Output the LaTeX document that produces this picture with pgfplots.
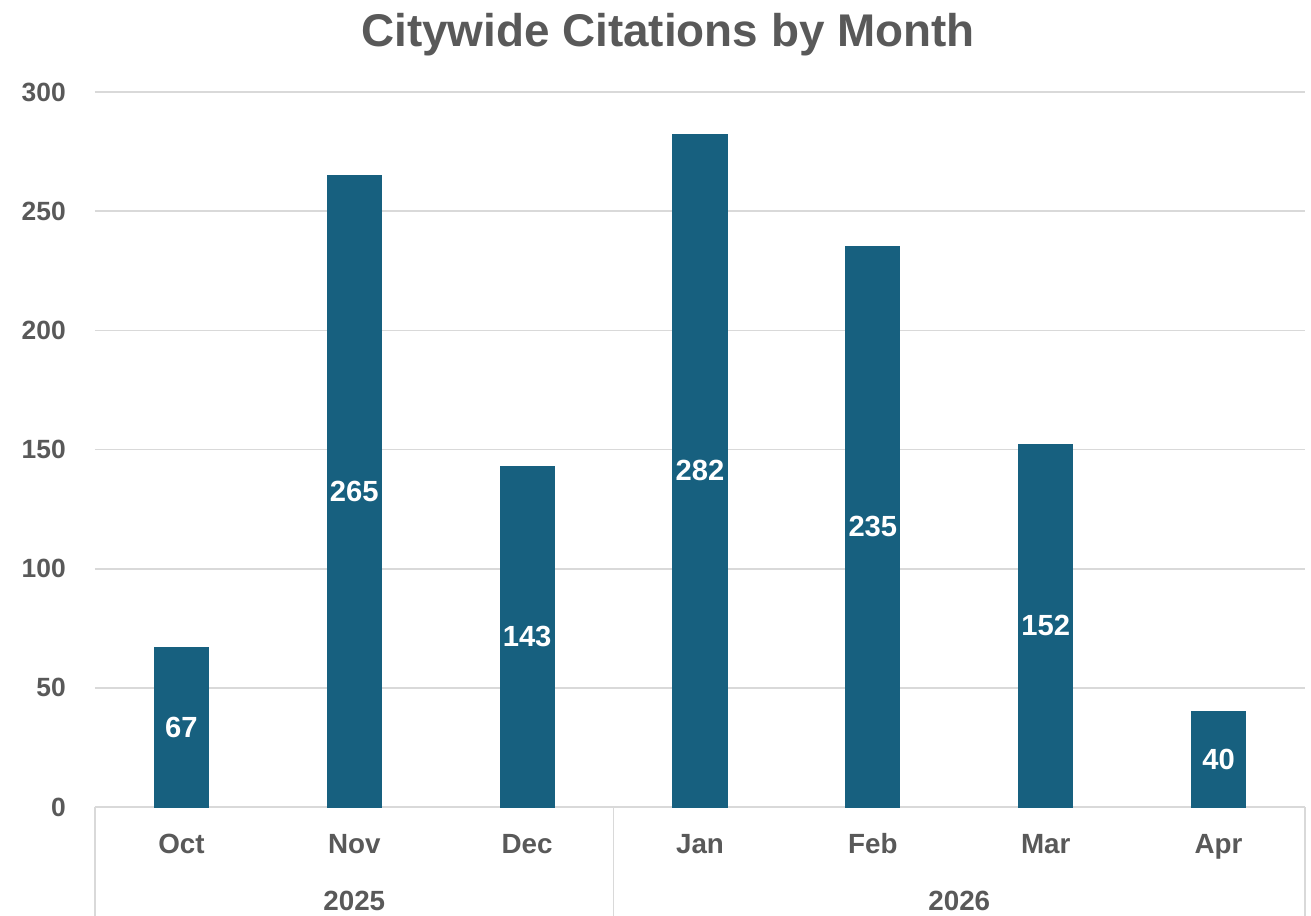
\documentclass[border=0pt]{standalone}
\usepackage{fontspec}
\setmainfont{Liberation Sans}
\usepackage{pgfplots}
\usepackage{pgfplotstable}
\pgfplotsset{compat=1.18}
\definecolor{barc}{HTML}{17607F}
\definecolor{txt}{HTML}{595959}
\definecolor{grd}{HTML}{D9D9D9}
\pgfplotstableread{
x v
0 67
1 265
2 143
3 282
4 235
5 152
6 40
}\citations
\begin{document}
\begin{tikzpicture}[x=1pt,y=1pt]
\useasboundingbox (-34.2,-39.24) rectangle (437.76,290.52);
\begin{axis}[at={(0,0)}, anchor=south west, scale only axis,
  width=435.6pt, height=257.4pt,
  xmin=-0.5, xmax=6.5, ymin=0, ymax=300,
  ytick={0,50,...,300},
  xtick={0,...,6}, xticklabels={Oct,Nov,Dec,Jan,Feb,Mar,Apr},
  /pgf/number format/assume math mode=true,
  axis x line*=bottom, axis y line*=left,
  x axis line style={draw=grd, line width=0.6pt, -},
  y axis line style={draw=none},
  ymajorgrids, grid style={draw=grd, line width=0.6pt},
  major tick length=0pt,
  clip=false,
  tick label style={text=txt},
  yticklabel style={font=\fontsize{9.5}{11}\selectfont\bfseries, anchor=east, xshift=-7pt},
  xticklabel style={font=\fontsize{10}{12}\selectfont\bfseries, anchor=center, text height=7.2pt, text depth=0pt, yshift=-13pt},
]
\addplot[ybar, bar width=19.44pt, fill=barc, draw=barc] table[x=x, y=v] {\citations};
\addplot[draw=none, mark=none, nodes near coords, point meta=explicit,
  nodes near coords style={anchor=center, text=white, font=\fontsize{10.5}{12}\selectfont\bfseries}]
  table[x=x, y expr=\thisrow{v}/2, meta=v] {\citations};
\draw[grd, line width=0.6pt] (axis cs:-0.5,0) -- ([yshift=-40pt]axis cs:-0.5,0);
\draw[grd, line width=0.6pt] (axis cs:2.5,0) -- ([yshift=-40pt]axis cs:2.5,0);
\draw[grd, line width=0.6pt] (axis cs:6.5,0) -- ([yshift=-40pt]axis cs:6.5,0);
\node[font=\fontsize{10}{12}\selectfont\bfseries, text=txt, anchor=center, text height=7.2pt, text depth=0pt] at ([yshift=-33.5pt]axis cs:1,0) {2025};
\node[font=\fontsize{10}{12}\selectfont\bfseries, text=txt, anchor=center, text height=7.2pt, text depth=0pt] at ([yshift=-33.5pt]axis cs:4.5,0) {2026};
\node[font=\fontsize{16.5}{19}\selectfont\bfseries, text=txt, anchor=center, text height=11.8pt, text depth=0pt] at ([yshift=22.3pt]rel axis cs:0.4736,1) {Citywide Citations by Month};
\end{axis}
\end{tikzpicture}
\end{document}
